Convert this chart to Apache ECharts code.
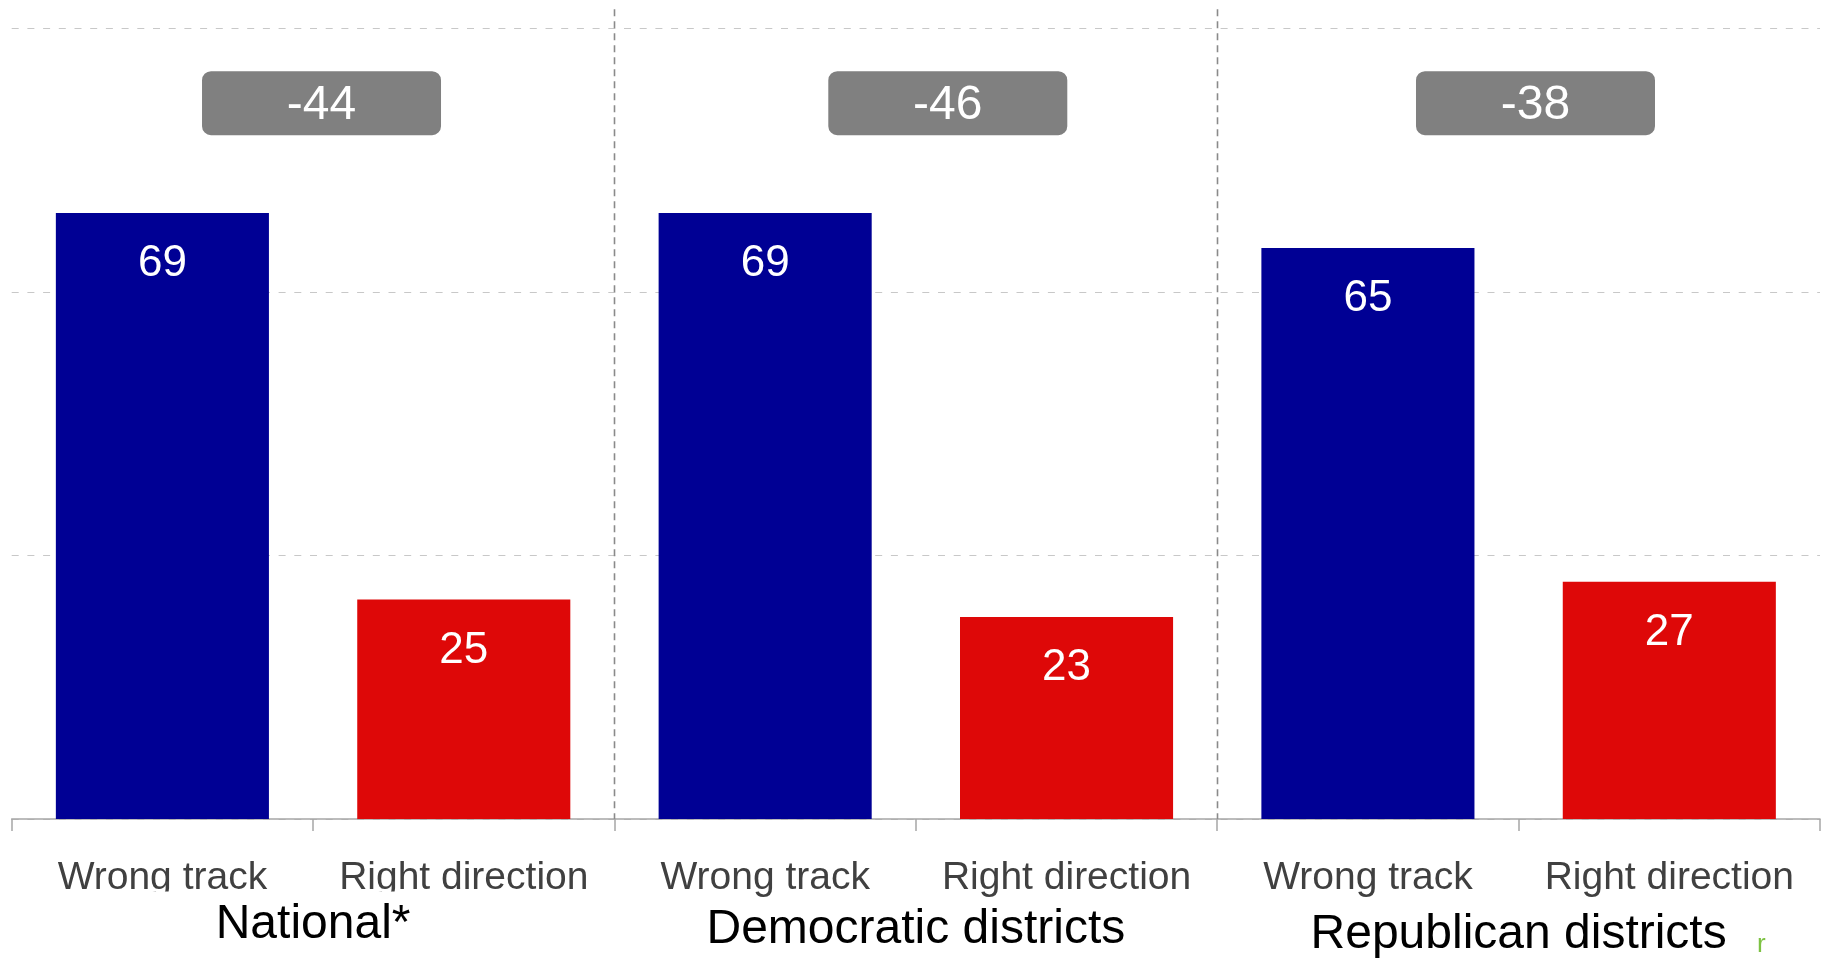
<!DOCTYPE html>
<html>
<head>
<meta charset="utf-8">
<script src="https://cdn.jsdelivr.net/npm/echarts@6/dist/echarts.min.js"></script>
<style>
  html, body { margin: 0; padding: 0; background: #fff; }
  #chart { width: 1828px; height: 959px; }
</style>
</head>
<body>
<div id="chart"></div>
<script>
// ---- data ----
const groups = ['National*', 'Democratic districts', 'Republican districts'];
const responses = ['Wrong track', 'Right direction'];
const wrongTrack = [69, 69, 65];
const rightDirection = [25, 23, 27];
const yTicks = [0, 30, 60, 90];

// ---- layout / style constants ----
const FONT = "'Liberation Sans', Arial, sans-serif";
const BLUE = '#000094';
const RED = '#de0808';
const BOX_Y = 81.5;          // value level of the difference boxes
const SEP_TOP = 92.2;        // value level where the group separators start
const BOX_SHIFT = [0.014, 0.053, 0.028]; // fraction of a group width
const BOX_W = 239, BOX_H = 64;

const categories = [];
const barData = [];
groups.forEach((g, i) => {
  categories.push(responses[0], responses[1]);
  barData.push({ value: wrongTrack[i], itemStyle: { color: BLUE } });
  barData.push({ value: rightDirection[i], itemStyle: { color: RED } });
});
const diffs = groups.map((g, i) => [i, BOX_Y, rightDirection[i] - wrongTrack[i]]);

const chart = echarts.init(document.getElementById('chart'));
chart.setOption({
  animation: false,
  grid: { left: 11.7, right: 8, top: 28.5, bottom: 140, containLabel: false },
  xAxis: [
    {
      type: 'category',
      data: categories,
      axisLine: { lineStyle: { color: '#a6a6a6', width: 1.5 } },
      axisTick: { show: true, interval: 0, length: 12, lineStyle: { color: '#a6a6a6', width: 1.5 } },
      axisLabel: { interval: 0, margin: 40, fontFamily: FONT, fontSize: 39, color: '#404040' },
      splitLine: { show: false }
    },
    {
      type: 'category',
      data: groups,
      position: 'bottom',
      z: 5,
      axisLine: { show: false },
      axisTick: { show: false },
      axisLabel: {
        interval: 0,
        margin: 77,
        formatter: (v, idx) => '{g' + idx + '|' + v + '}',
        rich: {
          g0: { fontFamily: FONT, fontSize: 48, lineHeight: 48, color: '#000', padding: [9, 0, 0, 0], width: 600, align: 'center', backgroundColor: '#fff' },
          g1: { fontFamily: FONT, fontSize: 48, lineHeight: 48, color: '#000', padding: [20.5, 0, 0, 0] },
          g2: { fontFamily: FONT, fontSize: 48, lineHeight: 48, color: '#000', padding: [30, 0, 0, 0] }
        }
      },
      splitLine: { show: false }
    }
  ],
  yAxis: {
    type: 'value',
    min: yTicks[0],
    max: yTicks[yTicks.length - 1],
    interval: yTicks[1] - yTicks[0],
    axisLine: { show: false },
    axisTick: { show: false },
    axisLabel: { show: false },
    splitLine: { show: true, lineStyle: { color: '#c8c8c8', width: 1, type: [7, 8.7] } }
  },
  series: [
    {
      type: 'bar',
      xAxisIndex: 0,
      data: barData,
      barWidth: '70.7%',
      z: 2,
      label: {
        show: true,
        position: 'insideTop',
        distance: 29,
        color: '#fff',
        fontFamily: FONT,
        fontSize: 44
      }
    },
    {
      type: 'custom',
      xAxisIndex: 1,
      z: 1,
      silent: true,
      data: [[1, 0], [2, 0]],
      renderItem: (params, api) => {
        const i = api.value(0);
        const w = api.size([1, 0])[0];
        const bottom = api.coord([i, 0]);
        const top = api.coord([i, SEP_TOP]);
        const x = Math.round(bottom[0] - w / 2) + 0.5;
        return {
          type: 'line',
          shape: { x1: x, y1: top[1], x2: x, y2: bottom[1] },
          style: { stroke: '#8a8a8a', lineWidth: 1.6, lineDash: [7, 5] }
        };
      }
    },
    {
      type: 'custom',
      xAxisIndex: 1,
      z: 3,
      silent: true,
      data: diffs,
      renderItem: (params, api) => {
        const i = api.value(0);
        const c = api.coord([i, api.value(1)]);
        const w = api.size([1, 0])[0];
        const cx = c[0] + BOX_SHIFT[params.dataIndex] * w;
        return {
          type: 'group',
          children: [
            {
              type: 'rect',
              shape: { x: cx - BOX_W / 2, y: c[1] - BOX_H / 2, width: BOX_W, height: BOX_H, r: 9 },
              style: { fill: '#808080' }
            },
            {
              type: 'text',
              x: cx,
              y: c[1] + 3,
              style: {
                text: String(api.value(2)),
                fill: '#fff',
                fontFamily: FONT,
                fontSize: 48,
                align: 'center',
                verticalAlign: 'middle'
              }
            }
          ]
        };
      }
    }
  ],
  graphic: [
    {
      type: 'text',
      left: 1757,
      top: 932,
      style: { text: 'r', fill: '#7dc243', fontFamily: FONT, fontSize: 26 }
    }
  ]
});
</script>
</body>
</html>
